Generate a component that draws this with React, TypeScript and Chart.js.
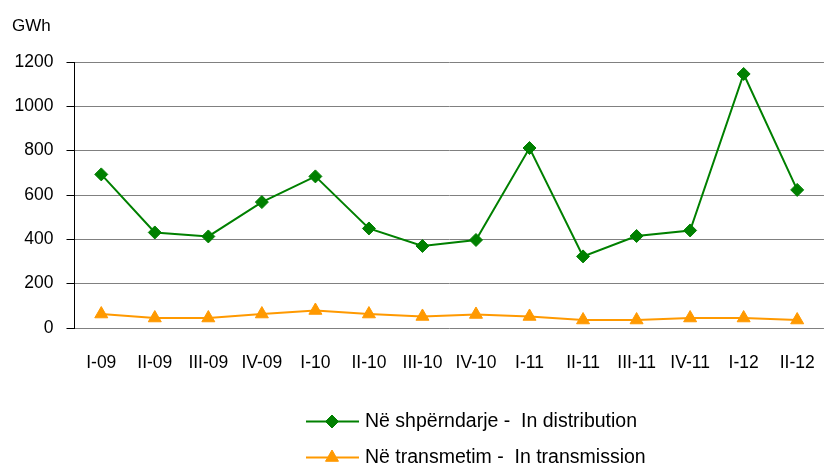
import React, { useEffect, useRef } from "react";
import { Chart, registerables } from "chart.js";

Chart.register(...registerables);

const categories = ["I-09", "II-09", "III-09", "IV-09", "I-10", "II-10", "III-10", "IV-10", "I-11", "II-11", "III-11", "IV-11", "I-12", "II-12"];
const distribution = [693, 431, 413, 568, 684, 449, 370, 397, 812, 323, 415, 440, 1146, 623];
const transmission = [63, 45, 45, 63, 79, 63, 52, 61, 52, 36, 36, 45, 45, 36];
const distributionLabel = "Në shpërndarje -  In distribution";
const transmissionLabel = "Në transmetim -  In transmission";
const unitLabel = "GWh";
const yMin = 0;
const yMax = 1200;
const yStep = 200;

const GREEN = "#008000";
const ORANGE = "#FF9900";
const TICK_FONT = "'Liberation Sans', Arial, sans-serif";
const LEGEND_FONT = "'Liberation Sans', Arial, sans-serif";

function drawMarker(ctx: CanvasRenderingContext2D, style: string, x: number, y: number, r: number, color: string) {
  ctx.beginPath();
  if (style === "rectRot") {
    ctx.moveTo(x - r, y);
    ctx.lineTo(x, y - r);
    ctx.lineTo(x + r, y);
    ctx.lineTo(x, y + r);
  } else {
    ctx.moveTo(x, y - r);
    ctx.lineTo(x + 0.866 * r, y + 0.5 * r);
    ctx.lineTo(x - 0.866 * r, y + 0.5 * r);
  }
  ctx.closePath();
  ctx.fillStyle = color;
  ctx.fill();
  ctx.strokeStyle = color;
  ctx.lineWidth = 1;
  ctx.stroke();
}

const extrasPlugin = {
  id: "extras",
  afterDraw(chart: any) {
    const ctx: CanvasRenderingContext2D = chart.ctx;
    ctx.save();
    ctx.fillStyle = "#000";
    ctx.font = `17px ${TICK_FONT}`;
    ctx.textAlign = "left";
    ctx.textBaseline = "middle";
    ctx.fillText(unitLabel, 12, 26);
    chart.data.datasets.forEach((ds: any, i: number) => {
      const y = 421.5 + i * 36;
      ctx.strokeStyle = ds.borderColor;
      ctx.lineWidth = 2;
      ctx.beginPath();
      ctx.moveTo(306, y);
      ctx.lineTo(359, y);
      ctx.stroke();
      drawMarker(ctx, ds.pointStyle, 332, y, ds.pointRadius, ds.pointBackgroundColor);
      ctx.fillStyle = "#000";
      ctx.font = `19.5px ${LEGEND_FONT}`;
      ctx.textAlign = "left";
      ctx.textBaseline = "middle";
      ctx.fillText(ds.label, 365, y);
    });
    ctx.restore();
  },
};

export default function App() {
  const ref = useRef<HTMLCanvasElement | null>(null);
  useEffect(() => {
    if (!ref.current) return;
    const chart = new Chart(ref.current, {
      type: "line",
      data: {
        labels: categories,
        datasets: [
          {
            label: distributionLabel,
            data: distribution,
            borderColor: GREEN,
            backgroundColor: GREEN,
            pointBackgroundColor: GREEN,
            pointBorderColor: GREEN,
            pointStyle: "rectRot",
            pointRadius: 6.5,
            pointBorderWidth: 1,
            borderWidth: 2,
            tension: 0,
          },
          {
            label: transmissionLabel,
            data: transmission,
            borderColor: ORANGE,
            backgroundColor: ORANGE,
            pointBackgroundColor: ORANGE,
            pointBorderColor: ORANGE,
            pointStyle: "triangle",
            pointRadius: 7.5,
            pointBorderWidth: 1,
            borderWidth: 2,
            tension: 0,
          },
        ],
      },
      options: {
        responsive: false,
        animation: false,
        devicePixelRatio: 1,
        layout: { padding: { top: 62, bottom: 85, left: 0, right: 2 } },
        plugins: {
          legend: { display: false },
          title: { display: false },
          tooltip: { enabled: false },
        },
        scales: {
          x: {
            offset: true,
            grid: { display: false, drawTicks: false },
            border: { display: false },
            ticks: {
              color: "#000",
              font: { family: TICK_FONT, size: 17.5 },
              padding: 25,
              maxRotation: 0,
              autoSkip: false,
            },
            afterFit: (s: any) => {
              s.height = 50;
            },
          },
          y: {
            min: yMin,
            max: yMax,
            grid: { color: "#808080", lineWidth: 1, tickColor: "#000", tickLength: 8, drawTicks: true },
            border: { display: true, color: "#000", width: 1 },
            ticks: {
              stepSize: yStep,
              color: "#000",
              font: { family: TICK_FONT, size: 17.5 },
              padding: 13,
              callback: (v: any) => String(v),
            },
            afterFit: (s: any) => {
              s.width = 74.5;
            },
          },
        },
      },
      plugins: [extrasPlugin],
    });
    return () => chart.destroy();
  }, []);
  return (
    <div style={{ position: "absolute", left: 0, top: 0, width: 831, height: 463, overflow: "hidden", background: "#fff" }}>
      <canvas ref={ref} width={840} height={463} style={{ display: "block" }} />
    </div>
  );
}
